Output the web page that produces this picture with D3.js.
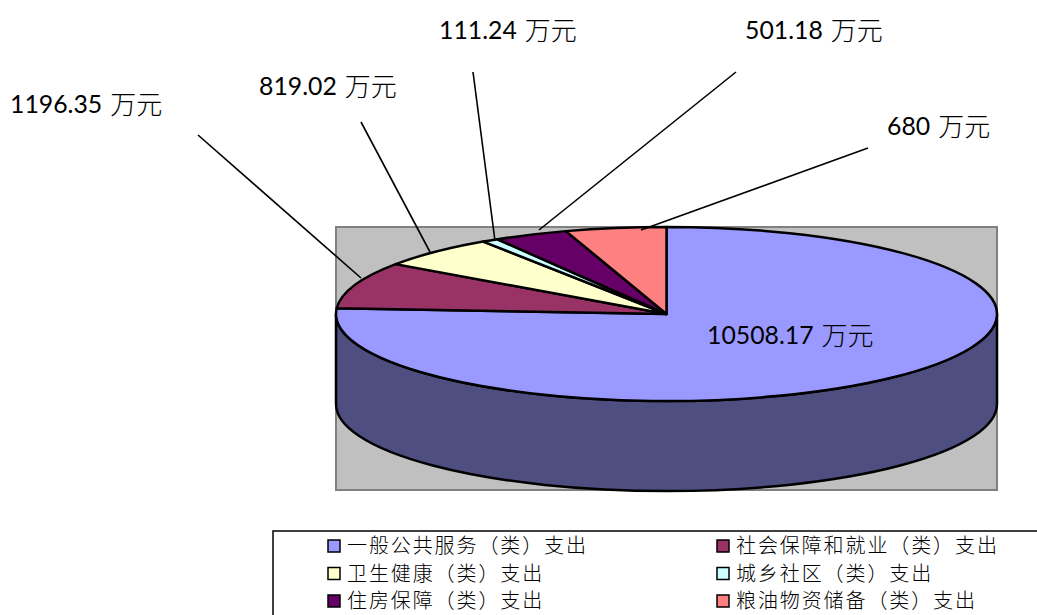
<!DOCTYPE html>
<html>
<head>
<meta charset="utf-8">
<script src="https://cdn.jsdelivr.net/npm/d3@7"></script>
<style>
  html, body { margin: 0; padding: 0; background: #fff; overflow: hidden; }
  svg { display: block; }
  .value-label { font-family: Lato, "Noto Sans CJK SC", sans-serif; font-size: 24.8px; fill: #000; }
  .value-unit { font-family: "Noto Sans CJK SC", sans-serif; font-size: 26px; font-weight: 300; }
  .legend-text { font-family: "Noto Sans CJK SC", sans-serif; font-size: 20px; font-weight: 300; fill: #000; letter-spacing: 1.9px; }
</style>
</head>
<body>
<div id="chart"></div>
<script>
const categories = ["一般公共服务（类）支出", "社会保障和就业（类）支出", "卫生健康（类）支出", "城乡社区（类）支出", "住房保障（类）支出", "粮油物资储备（类）支出"];
const amounts = [10508.17, 1196.35, 819.02, 111.24, 501.18, 680];
const amountLabels = ["10508.17", "1196.35", "819.02", "111.24", "501.18", "680"];
const unitLabel = "万元";
const sliceColors = ["#9999ff", "#993366", "#ffffcc", "#ccffff", "#660066", "#ff8080"];

// hand placed in the original, so these are layout and not data
const labelPos = [[707, 344], [10, 113], [259, 95], [439, 39], [745, 39], [887, 135]];
const leaderPos = [null, [198, 135, 361, 278], [361, 122, 430, 252], [473, 72, 495, 241], [736, 72, 539, 230], [868, 148, 641, 230]];

const width = 1037, height = 615;
const plot = { left: 336, top: 227, right: 997, bottom: 490 };
const cx = 666.5, cy = 314, rx = 330.5, ry = 87, depth = 90;

const svg = d3.select("#chart").append("svg")
    .attr("width", width)
    .attr("height", height);

svg.append("rect")
    .attr("x", plot.left)
    .attr("y", plot.top)
    .attr("width", plot.right - plot.left)
    .attr("height", plot.bottom - plot.top)
    .attr("fill", "#c0c0c0")
    .attr("stroke", "#808080")
    .attr("stroke-width", 2);

const color = d3.scaleOrdinal().domain(categories).range(sliceColors);

// side wall: front half of the ellipse pushed down by depth
const wallPath = `M${cx - rx},${cy} L${cx - rx},${cy + depth} A${rx},${ry} 0 0 0 ${cx + rx},${cy + depth} L${cx + rx},${cy} A${rx},${ry} 0 0 1 ${cx - rx},${cy} Z`;

svg.append("path")
    .attr("d", wallPath)
    .attr("fill", d3.color(sliceColors[0]).darker(1.9).formatHex())
    .attr("stroke", "#000")
    .attr("stroke-width", 2.5);

// pie is drawn as a circle and flattened, stroke stays even
const pie = d3.pie().sort(null).value(d => d)(amounts);
const arc = d3.arc().innerRadius(0).outerRadius(rx);

svg.append("g")
    .attr("transform", `translate(${cx},${cy}) scale(1,${ry / rx})`)
    .selectAll("path")
    .data(pie)
    .enter()
    .append("path")
    .attr("d", arc)
    .attr("fill", (d, i) => color(categories[i]))
    .attr("stroke", "#000")
    .attr("stroke-width", 2.5)
    .attr("stroke-linejoin", "round")
    .attr("vector-effect", "non-scaling-stroke");

leaderPos.forEach(p => {
    if (!p) return;
    svg.append("line")
        .attr("x1", p[0]).attr("y1", p[1])
        .attr("x2", p[2]).attr("y2", p[3])
        .attr("stroke", "#000")
        .attr("stroke-width", 1.6);
});

const valueText = svg.selectAll(".value-label")
    .data(amountLabels)
    .enter()
    .append("text")
    .attr("class", "value-label")
    .attr("x", (d, i) => labelPos[i][0])
    .attr("y", (d, i) => labelPos[i][1]);

valueText.append("tspan").text(d => d);
valueText.append("tspan")
    .attr("class", "value-unit")
    .attr("dx", 8)
    .attr("dy", 1)
    .text(unitLabel);

// legend box runs off the right and bottom of the page
svg.append("rect")
    .attr("x", 273)
    .attr("y", 531)
    .attr("width", 800)
    .attr("height", 120)
    .attr("fill", "#fff")
    .attr("stroke", "#000")
    .attr("stroke-width", 1.5);

const legendX = d3.scaleOrdinal().domain([0, 1]).range([328, 717]);
const legendY = d3.scaleOrdinal().domain([0, 1, 2]).range([546, 573.5, 601]);

const legend = svg.selectAll(".legend-item")
    .data(categories)
    .enter()
    .append("g")
    .attr("class", "legend-item")
    .attr("transform", (d, i) => `translate(${legendX(i % 2)},${legendY(Math.floor(i / 2))})`);

legend.append("rect")
    .attr("x", 0)
    .attr("y", -6)
    .attr("width", 12)
    .attr("height", 12)
    .attr("fill", d => color(d))
    .attr("stroke", "#000")
    .attr("stroke-width", 1.5);

legend.append("text")
    .attr("class", "legend-text")
    .attr("x", 19)
    .attr("y", 7)
    .text(d => d);
</script>
</body>
</html>
